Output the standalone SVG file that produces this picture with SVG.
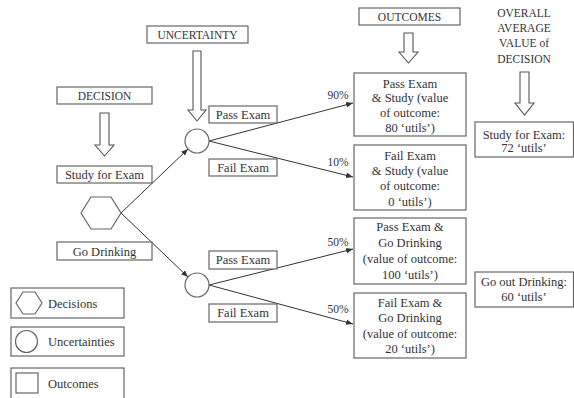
<svg xmlns="http://www.w3.org/2000/svg" width="574" height="398" viewBox="0 0 574 398">
<defs>
<style>
text{font-family:"Liberation Serif","Times New Roman",serif;fill:#333;font-size:12.5px}
.c{text-anchor:middle}
.cap{font-size:11.5px}
.box{fill:#fff;stroke:#666;stroke-width:1.2}
.blk{fill:#fff;stroke:#555;stroke-width:1.1}
.ln{stroke:#333;stroke-width:1;fill:none;marker-end:url(#ah)}
</style>
<marker id="ah" viewBox="0 0 10 10" refX="10" refY="5" markerWidth="7" markerHeight="7" orient="auto" markerUnits="userSpaceOnUse">
<path d="M0,1 L10,5 L0,9 z" fill="#333"/>
</marker>
</defs>
<rect width="574" height="398" fill="#fff"/>

<g id="connectors">
<line class="ln" x1="121" y1="213" x2="188" y2="149"/>
<line class="ln" x1="121" y1="213" x2="188" y2="277"/>
<line class="ln" x1="209" y1="141" x2="353" y2="103"/>
<line class="ln" x1="209" y1="141" x2="353" y2="177"/>
<line class="ln" x1="209" y1="285" x2="353" y2="249"/>
<line class="ln" x1="209" y1="285" x2="353" y2="324"/>
</g>

<g id="uncertainty-label">
<rect class="box" x="147" y="26" width="101" height="17"/>
<text class="c cap" x="197.5" y="38.5">UNCERTAINTY</text>
<path class="blk" d="M193,51 H201 V110 H206 L197,121 L188,110 H193 Z"/>
</g>
<g id="decision-label">
<rect class="box" x="57" y="87" width="95" height="17"/>
<text class="c cap" x="104.5" y="99.5">DECISION</text>
<path class="blk" d="M100,113 H109 V145 H114 L104.5,156 L95,145 H100 Z"/>
</g>
<g id="outcomes-label">
<rect class="box" x="359" y="8" width="101" height="17"/>
<text class="c cap" x="409.5" y="20.5">OUTCOMES</text>
<path class="blk" d="M404,33 H413 V52 H418 L408.5,63 L399,52 H404 Z"/>
</g>
<g id="overall-label">
<text class="c cap" x="524" y="17">OVERALL</text>
<text class="c cap" x="524" y="32">AVERAGE</text>
<text class="c cap" x="524" y="47">VALUE of</text>
<text class="c cap" x="524" y="63">DECISION</text>
<path class="blk" d="M520,72 H529 V103 H534 L524.5,115 L515,103 H520 Z"/>
</g>

<g id="study-option">
<rect class="box" x="57" y="166" width="95" height="17"/>
<text class="c" x="104.5" y="179">Study for Exam</text>
</g>
<g id="decision-node">
<polygon class="box" points="81,213 91,197 111,197 121,213 111,229 91,229"/>
</g>
<g id="drink-option">
<rect class="box" x="57" y="242" width="95" height="18"/>
<text class="c" x="104.5" y="255.5">Go Drinking</text>
</g>

<g id="uncertainty-study">
<circle class="box" cx="197" cy="141" r="12"/>
</g>
<g id="uncertainty-drink">
<circle class="box" cx="197" cy="285" r="12"/>
</g>

<g id="pass-study-label">
<rect class="box" x="209" y="106" width="68" height="17"/>
<text class="c" x="243" y="118.5">Pass Exam</text>
</g>
<g id="fail-study-label">
<rect class="box" x="209" y="159" width="68" height="17"/>
<text class="c" x="243" y="171.5">Fail Exam</text>
</g>
<g id="pass-drink-label">
<rect class="box" x="209" y="251" width="68" height="18"/>
<text class="c" x="243" y="264">Pass Exam</text>
</g>
<g id="fail-drink-label">
<rect class="box" x="209" y="304" width="68" height="18"/>
<text class="c" x="243" y="317">Fail Exam</text>
</g>

<g id="prob-labels">
<text class="c cap" x="338" y="99">90%</text>
<text class="c cap" x="338" y="166">10%</text>
<text class="c cap" x="338" y="246">50%</text>
<text class="c cap" x="338" y="313">50%</text>
</g>

<g id="outcome-pass-study">
<rect class="box" x="354" y="73" width="112" height="63"/>
<text class="c" x="410" y="87.5">Pass Exam</text>
<text class="c" x="410" y="101.5">&amp; Study (value</text>
<text class="c" x="410" y="117">of outcome:</text>
<text class="c" x="410" y="132">80 ‘utils’)</text>
</g>
<g id="outcome-fail-study">
<rect class="box" x="354" y="145" width="112" height="65"/>
<text class="c" x="410" y="160">Fail Exam</text>
<text class="c" x="410" y="174.5">&amp; Study (value</text>
<text class="c" x="410" y="190">of outcome:</text>
<text class="c" x="410" y="206">0 ‘utils’)</text>
</g>
<g id="outcome-pass-drink">
<rect class="box" x="354" y="218" width="112" height="66"/>
<text class="c" x="410" y="231">Pass Exam &amp;</text>
<text class="c" x="410" y="247">Go Drinking</text>
<text class="c" x="410" y="263">(value of outcome:</text>
<text class="c" x="410" y="279">100 ‘utils’)</text>
</g>
<g id="outcome-fail-drink">
<rect class="box" x="354" y="293" width="112" height="65"/>
<text class="c" x="410" y="307">Fail Exam &amp;</text>
<text class="c" x="410" y="322">Go Drinking</text>
<text class="c" x="410" y="338">(value of outcome:</text>
<text class="c" x="410" y="353">20 ‘utils’)</text>
</g>

<g id="value-study">
<rect class="box" x="475" y="122" width="98.5" height="35"/>
<text class="c" x="524" y="139">Study for Exam:</text>
<text class="c" x="524" y="152">72 ‘utils’</text>
</g>
<g id="value-drink">
<rect class="box" x="475" y="272" width="98.5" height="35"/>
<text class="c" x="524" y="286">Go out Drinking:</text>
<text class="c" x="524" y="301">60 ‘utils’</text>
</g>

<g id="legend-decisions">
<rect class="box" x="11" y="288" width="113" height="30"/>
<polygon class="box" points="16,303 23,292 35,292 42,303 35,314 23,314"/>
<text x="48" y="307.5">Decisions</text>
</g>
<g id="legend-uncertainties">
<rect class="box" x="11" y="327" width="113" height="29"/>
<circle class="box" cx="26.5" cy="341.5" r="11"/>
<text x="48" y="346">Uncertainties</text>
</g>
<g id="legend-outcomes">
<rect class="box" x="11" y="368" width="113" height="36"/>
<rect class="box" x="16" y="373" width="22" height="20"/>
<text x="48" y="388">Outcomes</text>
</g>
</svg>
